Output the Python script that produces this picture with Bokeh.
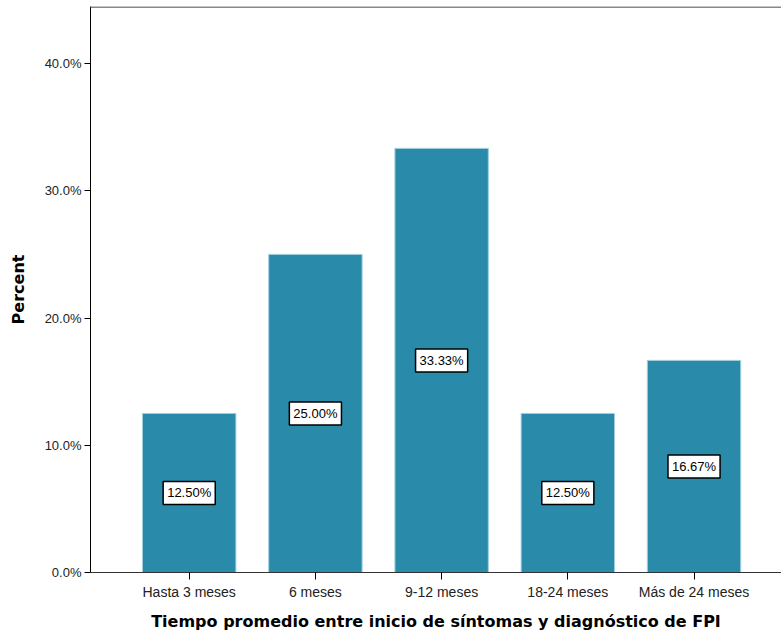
from bokeh.plotting import figure
from bokeh.models import ColumnDataSource, Label, FixedTicker, Span, Range1d
from bokeh.embed import file_html
from bokeh.resources import INLINE

categories = ["Hasta 3 meses", "6 meses", "9-12 meses", "18-24 meses", "Más de 24 meses"]
percents = [12.50, 25.00, 33.33, 12.50, 16.67]
y_ticks = [0, 10, 20, 30, 40]
y_tick_labels = ["0.0%", "10.0%", "20.0%", "30.0%", "40.0%"]

xs = list(range(len(categories)))
src = ColumnDataSource(dict(x=xs, top=percents))

YMAX = 44.48
p = figure(width=781, height=634, output_backend="svg", toolbar_location=None,
           x_range=Range1d(-0.782, 4.693), y_range=Range1d(0, YMAX),
           min_border_left=90, min_border_right=0, min_border_top=6, min_border_bottom=62)
p.outline_line_color = None
p.grid.grid_line_color = None
p.background_fill_color = "white"
p.border_fill_color = "white"

p.vbar(x="x", top="top", width=0.74, source=src, fill_color="#2a8aa9",
       line_color="#9fd0df", line_width=1)

for xi, v in zip(xs, percents):
    p.add_layout(Label(x=xi, y=v / 2, text="%.2f%%" % v, text_align="center",
                       text_baseline="middle", text_font="Liberation Sans",
                       text_font_size="13px", text_color="black",
                       background_fill_color="white", border_line_color="black",
                       border_line_width=1.5, padding=4))

p.add_layout(Span(location=YMAX, dimension="width", line_color="#888888", line_width=3))

ya = p.yaxis[0]
ya.ticker = FixedTicker(ticks=y_ticks)
ya.major_label_overrides = {t: l for t, l in zip(y_ticks, y_tick_labels)}
ya.minor_tick_line_color = None
ya.major_tick_in = 0
ya.major_tick_out = 6
ya.axis_line_color = "black"
ya.major_label_text_font = "Liberation Sans"
ya.major_label_text_font_size = "13px"
ya.major_label_text_color = "#222222"
ya.major_label_standoff = 3
ya.axis_label = "Percent"
ya.axis_label_text_font = "DejaVu Sans"
ya.axis_label_text_font_style = "bold"
ya.axis_label_text_font_size = "16px"
ya.axis_label_text_color = "black"
ya.axis_label_standoff = 14

xa = p.xaxis[0]
xa.ticker = FixedTicker(ticks=xs)
xa.major_label_overrides = {i: c for i, c in zip(xs, categories)}
xa.minor_tick_line_color = None
xa.major_tick_in = 0
xa.major_tick_out = 7
xa.axis_line_color = "#333333"
xa.major_label_text_font = "Liberation Sans"
xa.major_label_text_font_size = "14px"
xa.major_label_text_color = "#222222"
xa.major_label_standoff = 4
xa.axis_label = "Tiempo promedio entre inicio de síntomas y diagnóstico de FPI"
xa.axis_label_text_font = "DejaVu Sans"
xa.axis_label_text_font_style = "bold"
xa.axis_label_text_font_size = "16px"
xa.axis_label_text_color = "black"
xa.axis_label_standoff = 9

open("out.html", "w").write(file_html(p, INLINE))
